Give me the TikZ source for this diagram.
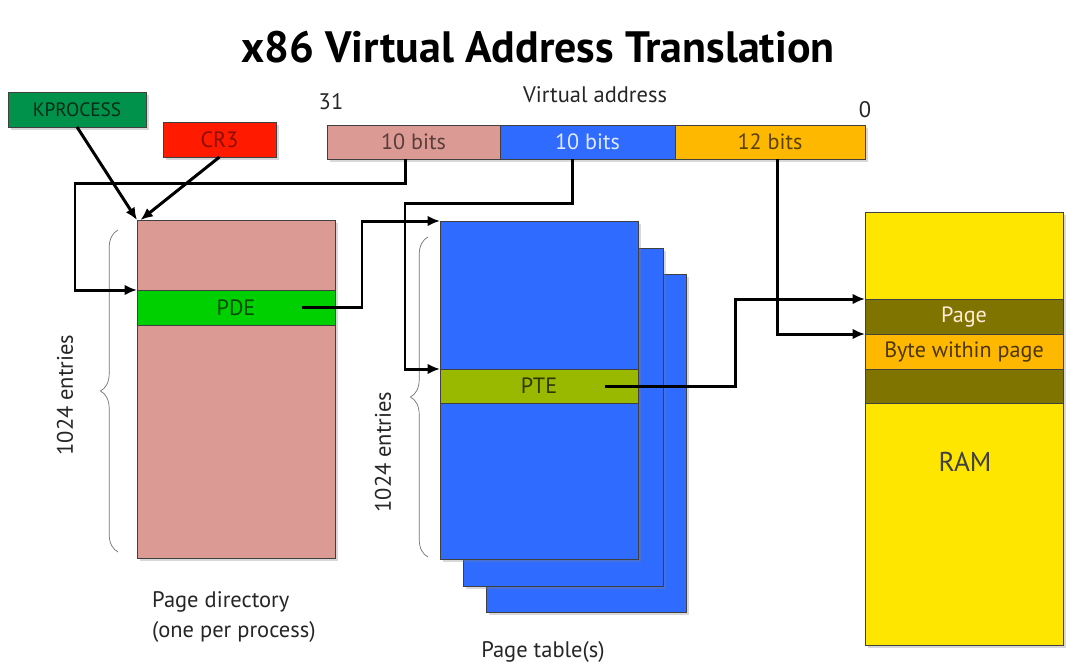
\documentclass[tikz,border=0pt]{standalone}
\usepackage{fontspec}
\setmainfont{PT Sans}
\usetikzlibrary{arrows.meta,shadows,decorations.pathreplacing}
\definecolor{pdpink}{RGB}{220,154,148}
\definecolor{ptblue}{RGB}{47,107,255}
\definecolor{offorange}{RGB}{255,184,0}
\definecolor{pdegreen}{RGB}{0,208,0}
\definecolor{ptegreen}{RGB}{153,184,0}
\definecolor{ramyellow}{RGB}{255,230,0}
\definecolor{ramolive}{RGB}{128,116,0}
\definecolor{kgreen}{RGB}{0,145,74}
\definecolor{cregred}{RGB}{255,26,0}
\begin{document}
\begin{tikzpicture}[x=0.02cm, y=-0.02cm,
    wh/.style 2 args={minimum width=#1*0.02cm, minimum height=#2*0.02cm},
    cell/.style={draw=black!75, thin, inner sep=0pt, outer sep=0pt, anchor=north west,
                 font=\fontsize{12.6}{14}\selectfont},
    shade/.style={drop shadow={shadow xshift=1.5pt, shadow yshift=-1.5pt, opacity=.3}},
    wire/.style={line width=1.7pt, -{Latex[length=7pt,width=6pt]}},
    entries/.style={draw=black!55, thin, decorate, decoration={brace, amplitude=10pt}},
    lbl/.style={font=\fontsize{12.8}{17.5}\selectfont, text=black!85}]
  \fill[white] (0,0) rectangle (1081,667);
  \useasboundingbox (0,0) rectangle (1081,667);
  \node (title) at (538,47) {\fontsize{25}{29}\selectfont\bfseries x86 Virtual Address Translation};

  % registers
  \node[cell, wh={138}{35}, fill=kgreen, text=black!70!kgreen, font=\fontsize{11}{13}\selectfont, shade] (kproc) at (8,92) {KPROCESS};
  \node[cell, wh={113}{35}, fill=cregred, text=black!45!cregred, shade] (cr3) at (163,122) {CR3};

  % virtual address
  \node[lbl] (msb) at (331,102) {31};
  \node[lbl] (vaddr) at (595,95) {Virtual address};
  \node[lbl] (lsb) at (865,110) {0};
  \node[cell, wh={173}{34}, fill=pdpink, text=black!60!pdpink, shade] (seg1) at (327,125) {10 bits};
  \node[cell, wh={175}{34}, fill=ptblue, text=white!85!ptblue, shade] (seg2) at (seg1.north east) {10 bits};
  \node[cell, wh={190}{34}, fill=offorange, text=black!65!offorange, shade] (seg3) at (seg2.north east) {12 bits};

  % page directory
  \node[cell, wh={198}{338}, fill=pdpink, shade] (pd) at (137,220) {};
  \node[cell, wh={198}{35}, fill=pdegreen, text=black!65!pdegreen] (pde) at (137,290) {PDE};
  \draw[entries] (118,552) -- (118,230);
  \node[lbl, rotate=90] (pdcount) at (65,395) {1024 entries};
  \node[lbl, anchor=north west, align=left] (pdcap) at (146,585) {Page directory\\(one per process)};

  % page tables
  \foreach \i/\dx/\dy in {3/46/53,2/23/27}
    \node[cell, wh={200}{338}, fill=ptblue, shade] (pt\i) at (440+\dx,221+\dy) {};
  \node[cell, wh={198}{338}, fill=ptblue, shade] (pt) at (440,221) {};
  \node[cell, wh={198}{34}, fill=ptegreen, text=black!70!ptegreen] (pte) at (440,369) {PTE};
  \draw[entries] (428,557) -- (428,237);
  \node[lbl, rotate=90] (ptcount) at (383,452) {1024 entries};
  \node[lbl] (ptcap) at (543,652) {Page table(s)};

  % physical memory
  \node[cell, wh={198}{433}, fill=ramyellow, shade] (ram) at (865,212) {};
  \node[cell, wh={198}{35}, fill=ramolive, text=white!85!orange] (page) at (865,299) {Page};
  \node[cell, wh={198}{35}, fill=offorange, text=black!70!offorange] (byte) at (865,334) {Byte within page};
  \node[cell, wh={198}{34}, fill=ramolive] (pageend) at (865,369) {};
  \node[text=black!75] (ramlbl) at (965,462) {\fontsize{15.5}{18}\selectfont RAM};

  % connectors
  \draw[wire] (kproc.south) -- (pd.north west);
  \draw[wire] (cr3.south) -- ([xshift=2pt]pd.north west);
  \draw[wire] ([xshift=-0.17cm]seg1.south) |- (75,183) |- (pde.north west);
  \draw[wire] ([xshift=-0.31cm]seg2.south) |- (405,203) |- (pte.north west);
  \draw[wire] ([xshift=0.14cm]seg3.south) |- (byte.north west);
  \draw[wire] ([xshift=1.32cm]pde.center) -| (362,221) -- (pt.north west);
  \draw[wire] ([xshift=1.32cm]pte.center) -| (735,299) -- (page.north west);
\end{tikzpicture}
\end{document}
